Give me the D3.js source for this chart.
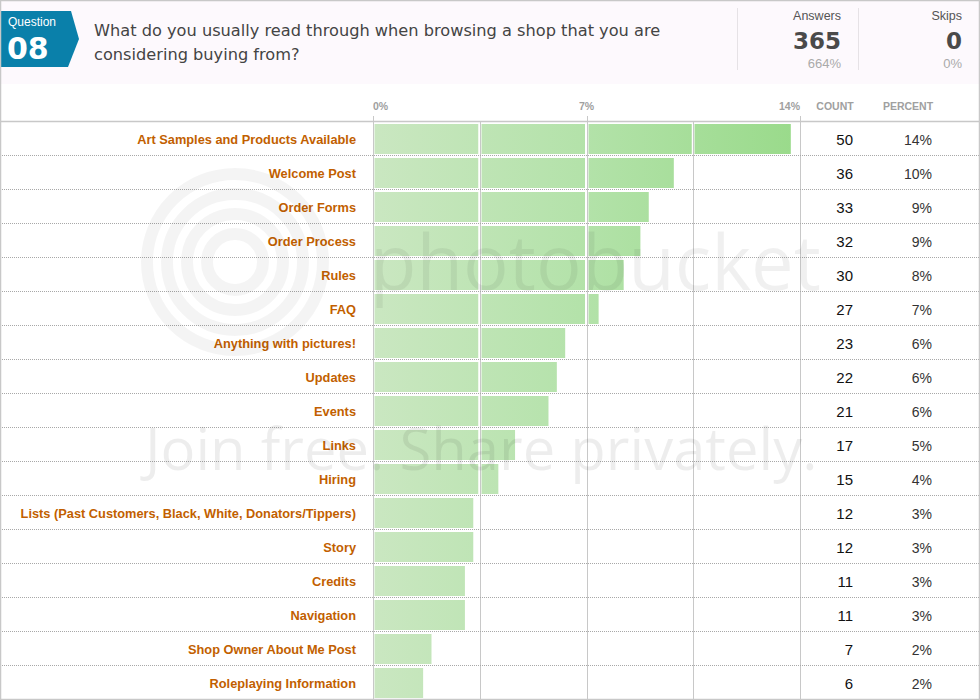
<!DOCTYPE html>
<html>
<head>
<meta charset="utf-8">
<script src="https://cdn.jsdelivr.net/npm/d3@7"></script>
<style>
  html, body { margin: 0; padding: 0; background: #fff; }
  svg { display: block; }
</style>
</head>
<body>
<svg id="chart" width="980" height="700"></svg>
<script>
// ---------- data ----------
const categories = [
  "Art Samples and Products Available",
  "Welcome Post",
  "Order Forms",
  "Order Process",
  "Rules",
  "FAQ",
  "Anything with pictures!",
  "Updates",
  "Events",
  "Links",
  "Hiring",
  "Lists (Past Customers, Black, White, Donators/Tippers)",
  "Story",
  "Credits",
  "Navigation",
  "Shop Owner About Me Post",
  "Roleplaying Information"
];
const counts = [50, 36, 33, 32, 30, 27, 23, 22, 21, 17, 15, 12, 12, 11, 11, 7, 6];
const percentLabels = ["14%", "10%", "9%", "9%", "8%", "7%", "6%", "6%", "6%", "5%", "4%", "3%", "3%", "3%", "3%", "2%", "2%"];
const totalAnswers = 365;
const axisTickLabels = ["0%", "7%", "14%"];
const axisTickValues = [0, 7, 14];
const gridValues = [0, 3.5, 7, 10.5, 14];
const questionNumber = "08";
const questionTitle = ["What do you usually read through when browsing a shop that you are", "considering buying from?"];
const answersStat = { label: "Answers", value: "365", pct: "664%" };
const skipsStat = { label: "Skips", value: "0", pct: "0%" };

// ---------- setup ----------
const W = 980, H = 700;
const svg = d3.select("#chart");
const sans = "'Liberation Sans', Arial, sans-serif";
const dejavu = "'DejaVu Sans', Verdana, sans-serif";

const x = d3.scaleLinear().domain([0, 14]).range([373, 800]);
const y = d3.scaleBand().domain(categories).range([122, 700]).paddingInner(0).paddingOuter(0);

const defs = svg.append("defs");
const grad = defs.append("linearGradient").attr("id", "barGrad")
  .attr("gradientUnits", "userSpaceOnUse")
  .attr("x1", x(0)).attr("x2", x(14)).attr("y1", 0).attr("y2", 0);
grad.append("stop").attr("offset", "0%").attr("stop-color", "#cae7c1");
grad.append("stop").attr("offset", "50%").attr("stop-color", "#b3e2a9");
grad.append("stop").attr("offset", "100%").attr("stop-color", "#99da8a");

// background
svg.append("rect").attr("width", W).attr("height", H).attr("fill", "#fff");
// header band
svg.append("rect").attr("x", 1).attr("y", 1).attr("width", W - 2).attr("height", 83).attr("fill", "#fdf9fd");

// ---------- header ----------
svg.append("path")
  .attr("d", "M0,11 L71,11 L79,39 L68,67 L0,67 Z")
  .attr("fill", "#0a80aa");
svg.append("text").attr("x", 8).attr("y", 26).text("Question")
  .attr("fill", "#fff").attr("font-family", sans).attr("font-size", 12);
svg.append("text").attr("x", 7).attr("y", 59).text(questionNumber)
  .attr("fill", "#fff").attr("font-family", dejavu).attr("font-weight", "bold").attr("font-size", 30);

svg.selectAll("text.title").data(questionTitle).join("text").attr("class", "title")
  .attr("x", 94).attr("y", (d, i) => 36 + i * 24)
  .attr("fill", "#444").attr("font-family", dejavu).attr("font-size", 16.2)
  .text(d => d);

// stat separators
[737, 858].forEach(sx => {
  svg.append("line").attr("x1", sx + 0.5).attr("x2", sx + 0.5).attr("y1", 8).attr("y2", 70)
    .attr("stroke", "#e6e2e6").attr("stroke-width", 1);
});
function stat(s, rx) {
  svg.append("text").attr("x", rx).attr("y", 20).attr("text-anchor", "end")
    .attr("fill", "#555").attr("font-family", sans).attr("font-size", 12.5).text(s.label);
  svg.append("text").attr("x", rx).attr("y", 49).attr("text-anchor", "end")
    .attr("fill", "#4a4a4a").attr("font-family", dejavu).attr("font-weight", "bold").attr("font-size", 23).text(s.value);
  svg.append("text").attr("x", rx).attr("y", 68).attr("text-anchor", "end")
    .attr("fill", "#aaa").attr("font-family", sans).attr("font-size", 13).text(s.pct);
}
stat(answersStat, 841);
stat(skipsStat, 962);

// ---------- axis header ----------
svg.append("line").attr("x1", 0).attr("x2", W).attr("y1", 121.5).attr("y2", 121.5)
  .attr("stroke", "#c8c8c8").attr("stroke-width", 1.5);

svg.selectAll("text.tick").data(axisTickValues).join("text").attr("class", "tick")
  .attr("x", d => x(d))
  .attr("y", 110)
  .attr("text-anchor", (d, i) => i === 0 ? "start" : (i === axisTickValues.length - 1 ? "end" : "middle"))
  .attr("fill", "#a0a0a0").attr("font-family", sans).attr("font-weight", "bold").attr("font-size", 10.5)
  .text((d, i) => axisTickLabels[i]);

svg.append("text").attr("x", 835).attr("y", 110).attr("text-anchor", "middle")
  .attr("fill", "#a0a0a0").attr("font-family", sans).attr("font-weight", "bold").attr("font-size", 10.5).text("COUNT");
svg.append("text").attr("x", 908).attr("y", 110).attr("text-anchor", "middle")
  .attr("fill", "#a0a0a0").attr("font-family", sans).attr("font-weight", "bold").attr("font-size", 10.5).text("PERCENT");

// ---------- grid ----------
svg.selectAll("line.grid").data(gridValues).join("line").attr("class", "grid")
  .attr("x1", d => Math.round(x(d)) + 0.5).attr("x2", d => Math.round(x(d)) + 0.5)
  .attr("y1", d => (axisTickValues.includes(d) ? 116 : 122)).attr("y2", H)
  .attr("stroke", "#c8c8c8").attr("stroke-width", 1);

// row separators (dotted)
svg.selectAll("line.rowsep").data(categories.slice(0, -1)).join("line").attr("class", "rowsep")
  .attr("x1", 0).attr("x2", W)
  .attr("y1", d => y(d) + y.bandwidth() - 0.5).attr("y2", d => y(d) + y.bandwidth() - 0.5)
  .attr("stroke", "#a8a8a8").attr("stroke-width", 1).attr("stroke-dasharray", "1,1");

// ---------- bars (segmented at 3.5% gridlines) ----------
const segs = [];
categories.forEach((c, i) => {
  const v = counts[i] / totalAnswers * 100;
  for (let k = 0; k < gridValues.length - 1; k++) {
    const a = gridValues[k], b = gridValues[k + 1];
    if (v <= a) break;
    const end = Math.min(v, b);
    segs.push({ cat: c, a, end, full: end === b });
  }
});
svg.selectAll("rect.bar").data(segs).join("rect").attr("class", "bar")
  .attr("x", d => Math.round(x(d.a)) + 1.5)
  .attr("width", d => Math.max(0, x(d.end) - Math.round(x(d.a)) - 1.5 - (d.full ? 1.5 : 0)))
  .attr("y", d => y(d.cat) + 2)
  .attr("height", y.bandwidth() - 4)
  .attr("fill", "url(#barGrad)");

// ---------- labels ----------
svg.selectAll("text.cat").data(categories).join("text").attr("class", "cat")
  .attr("x", 356).attr("y", d => y(d) + y.bandwidth() / 2 + 4.5)
  .attr("text-anchor", "end")
  .attr("fill", "#c25f00").attr("font-family", sans).attr("font-weight", "bold").attr("font-size", 12.8)
  .text(d => d);

svg.selectAll("text.count").data(counts).join("text").attr("class", "count")
  .attr("x", 853).attr("y", (d, i) => y(categories[i]) + y.bandwidth() / 2 + 5.5)
  .attr("text-anchor", "end")
  .attr("fill", "#111").attr("font-family", sans).attr("font-size", 15)
  .text(d => d);

svg.selectAll("text.pct").data(percentLabels).join("text").attr("class", "pct")
  .attr("x", 932).attr("y", (d, i) => y(categories[i]) + y.bandwidth() / 2 + 5.5)
  .attr("text-anchor", "end")
  .attr("fill", "#333").attr("font-family", sans).attr("font-size", 14)
  .text(d => d);

// ---------- watermark (photobucket), drawn over the chart ----------
const wm = svg.append("g").attr("pointer-events", "none");
[28, 48, 68, 88].forEach(r => {
  wm.append("circle").attr("cx", 235).attr("cy", 262).attr("r", r)
    .attr("fill", "none").attr("stroke", "#000").attr("stroke-opacity", 0.045).attr("stroke-width", 12);
});
wm.append("text").attr("x", 370).attr("y", 290).text("photobucket")
  .attr("font-family", "'Open Sans', sans-serif").attr("font-size", 76).attr("fill", "#000").attr("fill-opacity", 0.06);
wm.append("text").attr("x", 145).attr("y", 470).text("Join free. Share privately.")
  .attr("font-family", "'Open Sans', sans-serif").attr("font-size", 58).attr("fill", "#000").attr("fill-opacity", 0.07);

// ---------- outer border ----------
svg.append("rect").attr("x", 0.5).attr("y", 0.5).attr("width", W - 1).attr("height", H - 1)
  .attr("fill", "none").attr("stroke", "#c8c8c8").attr("stroke-width", 1.5);
</script>
</body>
</html>
